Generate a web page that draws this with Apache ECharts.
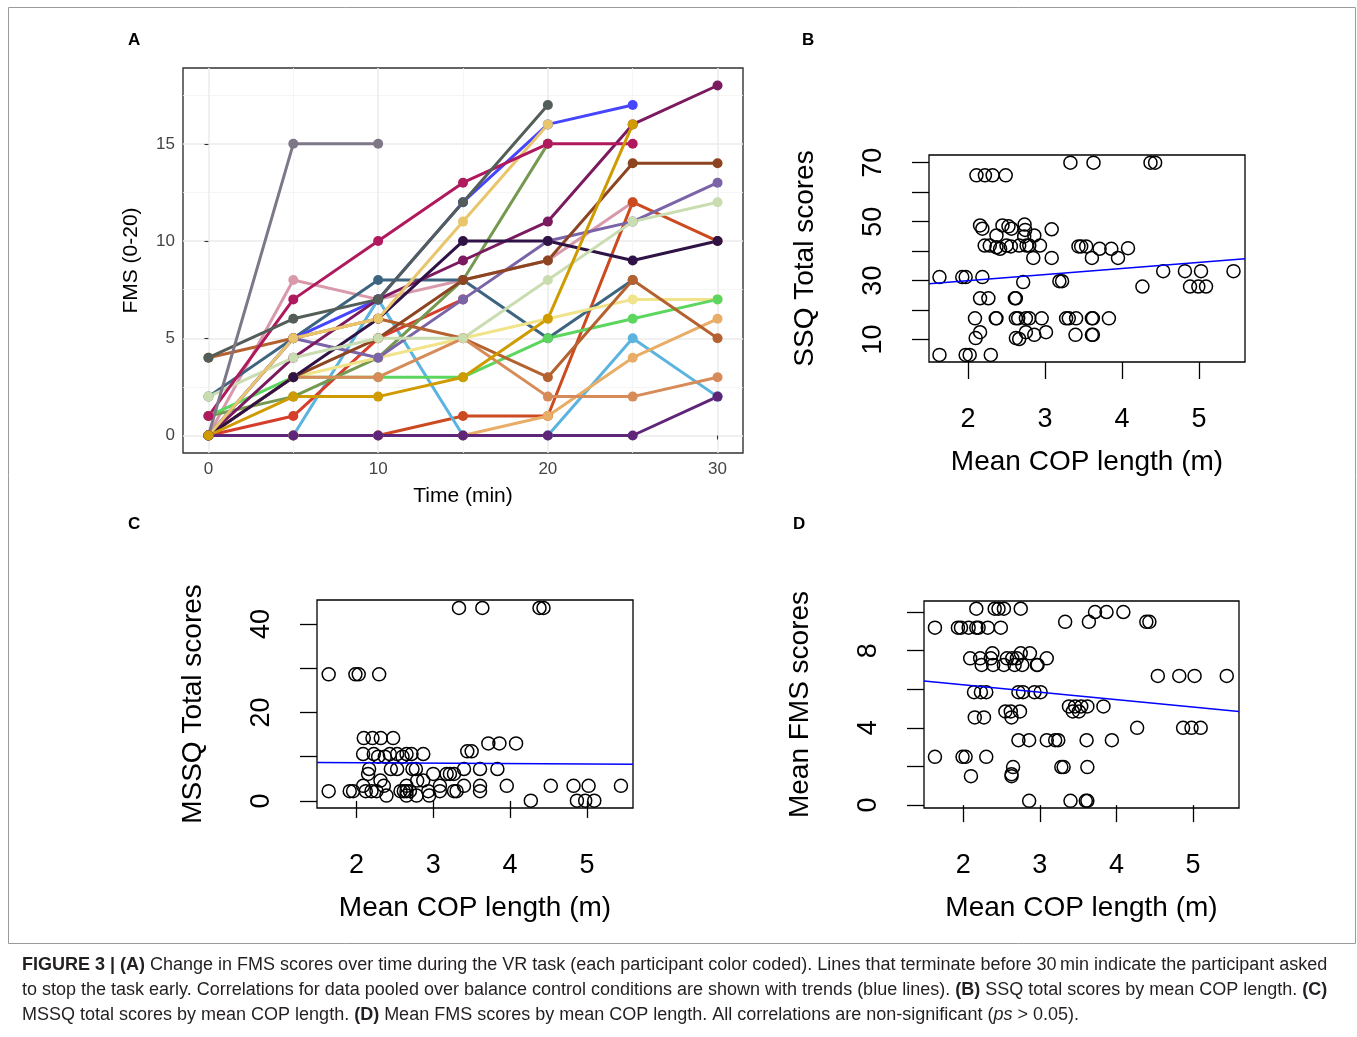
<!DOCTYPE html>
<html><head><meta charset="utf-8">
<script src="https://cdn.jsdelivr.net/npm/echarts@6/dist/echarts.min.js"></script>
<style>html,body{margin:0;padding:0;background:#fff}#c{width:1357px;height:1037px}</style>
</head><body><div id="c"></div>
<script>
// ---------- Panel A data: FMS (0-20) per participant over time ----------
const timePoints = [0, 5, 10, 15, 20, 25, 30];
const fmsPink        = [0, 8, 7, 8, 9, 12];
const fmsOrangeRed   = [0, 0, 0, 1, 1, 12, 10];
const fmsSkyBlue     = [0, 0, 7, 0, 0, 5, 2];
const fmsSandy       = [0, 0, 0, 0, 1, 4, 6];
const fmsRed         = [0, 1, 5, 7];
const fmsOlive       = [1, 2, 4, 8, 15];
const fmsSteelBlue   = [2, 5, 8, 8, 5, 8];
const fmsBlue        = [0, 5, 7, 12, 16, 17];
const fmsKhaki       = [0, 3, 4, 5, 6, 7, 7];
const fmsLavender    = [0, 5, 4, 7, 10, 11, 13];
const fmsBrightGreen = [1, 3, 3, 3, 5, 6, 7];
const fmsCopper      = [4, 5, 6, 5, 3, 8, 5];
const fmsBrown       = [0, 3, 5, 8, 9, 14, 14];
const fmsPeru        = [0, 3, 3, 5, 2, 2, 3];
const fmsPlum        = [0, 4, 7, 9, 11, 16, 18];
const fmsEggplant    = [0, 3, 6, 10, 10, 9, 10];
const fmsSage        = [2, 4, 5, 5, 8, 11, 12];
const fmsLightGold   = [0, 5, 6, 11, 16];
const fmsCrimson     = [1, 7, 10, 13, 15, 15];
const fmsDarkSlate   = [4, 6, 7, 12, 17];
const fmsGrayPurple  = [0, 15, 15];
const fmsPurple      = [0, 0, 0, 0, 0, 0, 2];
const fmsGold        = [0, 2, 2, 3, 6, 16];
const panelAXTicks = [0, 10, 20, 30];
const panelAXMinor = [5, 15, 25];
const panelAYTicks = [0, 5, 10, 15];
const panelAYMinor = [2.5, 7.5, 12.5, 17.5];

// ---------- Panel B: SSQ total vs mean COP length ----------
const bCop = [3.33,3.63,4.37,4.43, 2.11,2.22,2.32,2.49,
  2.157,2.187,2.370,2.448,2.526,2.565,2.735,2.743,2.730,2.861,3.087,
  2.217,2.283,2.370,2.417,2.500,2.557,2.665,2.761,2.796,2.935,3.435,3.470,3.535,3.709,3.861,4.078,
  2.848,3.087,3.609,3.948, 4.535,4.817,5.026,5.448, 1.630,1.926,1.970,2.187,
  2.717,3.187,3.222, 4.265,4.883,4.991,5.091, 2.157,2.265,2.609,2.622,
  2.091,2.361,2.370,2.622,2.652,2.752,2.796,2.957,3.274,3.309,3.404,3.609,3.622,3.830,
  2.157,2.100,2.622,2.665,2.752,2.861,3.013,3.396,3.609,3.622, 1.630,1.970,2.022,2.296];
const bSsq = [70,70,70,70, 65.7,65.7,65.7,65.7,
  48.7,47.6,45.3,48.7,48.4,47.6,49.0,47.2,45.0,45.3,47.4,
  41.9,41.9,41.3,40.8,41.9,41.6,41.9,41.9,41.9,41.9,41.6,41.6,41.6,40.8,40.8,41.0,
  37.7,37.7,37.7,37.7, 33.2,33.2,33.2,33.2, 31.2,31.2,31.2,31.2,
  29.5,29.8,29.8, 28.0,28.0,28.0,28.0, 24.0,24.0,24.0,24.0,
  17.2,17.2,17.2,17.2,17.2,17.2,17.2,17.2,17.2,17.2,17.2,17.2,17.2,17.2,
  12.5,10.5,10.5,10.2,12.5,11.6,12.5,11.6,11.6,11.6, 4.8,4.8,4.8,4.8];
const bTrend = [[1.494, 28.9], [5.597, 37.4]];
const bXTicks = [2, 3, 4, 5];
const bYTicks = [10, 20, 30, 40, 50, 60, 70];
const bYLabels = [10, 30, 50, 70];

// ---------- Panel C: MSSQ total vs mean COP length ----------
const cCop = [3.335,3.639,4.383,4.435, 1.639,1.987,2.030,2.296, 2.096,2.209,2.317,2.478,
  3.717,3.861,4.078, 3.443,3.500, 2.087,2.226,2.435,2.530,2.652,2.717,2.870, 2.283,2.370,2.600,
  2.165,2.448,2.530,2.730,2.774,3.400,3.609,3.835, 2.152,3.000,3.174,3.217,3.270, 2.313,2.791,2.870,
  2.087,2.357,2.652,3.087,3.400,3.609,3.957,4.530,4.826,5.022,5.443,
  1.639,1.913,1.957,2.122,2.196,2.261,2.574,2.617,2.652,2.696,2.935,3.087,3.270,3.304,3.609,
  2.391,2.652,2.783,2.948, 4.270,4.870,4.978,5.096];
const cMssq = [43.6,43.6,43.6,43.6, 28.6,28.6,28.6,28.6, 14.2,14.2,14.2,14.2,
  13.0,13.0,13.0, 11.2,11.2, 10.6,10.6,10.6,10.6,10.6,10.6,10.6, 10.0,10.0,10.0,
  7.2,7.2,7.2,7.2,7.2,7.2,7.2,7.2, 6.1,6.1,6.1,6.1,6.1, 4.6,4.6,4.6,
  3.4,3.4,3.4,3.4,3.4,3.4,3.4,3.4,3.4,3.4,3.4,
  2.2,2.2,2.2,2.2,2.2,2.2,2.2,2.2,2.2,2.2,2.2,2.2,2.2,2.2,2.2,
  1.2,1.2,1.2,1.2, 0.06,0.06,0.06,0.06];
const cTrend = [[1.487, 8.7], [5.6, 8.3]];
const cXTicks = [2, 3, 4, 5];
const cYTicks = [0, 10, 20, 30, 40];
const cYLabels = [0, 20, 40];

// ---------- Panel D: mean FMS vs mean COP length ----------
const dCop = [2.17,2.41,2.46,2.53,2.75, 3.72,3.87,4.09, 3.33,3.64,4.39,4.43,
  1.63,1.93,1.97,2.07,2.17,2.20,2.32,2.49, 2.38,2.75,2.87, 2.09,2.22,2.36,2.57,2.64,2.70,3.09,
  2.24,2.39,2.53,2.67,2.77,2.96,2.97, 4.54,4.82,5.02,5.44, 2.14,2.23,2.30,2.72,2.78,2.93,3.01,
  3.38,3.46,3.54,3.62,3.83, 2.55,2.62,2.74,3.43,3.51, 2.15,2.27,2.63, 4.27,4.87,4.98,5.10,
  2.72,2.86,3.09,3.20,3.24,3.61,3.94, 1.63,1.99,2.03,2.30, 2.65,3.28,3.31,3.62, 2.10,2.63,2.63,
  2.86,3.40,3.60,3.62];
const dFms = [10.17,10.17,10.17,10.17,10.17, 10.0,10.0,10.0, 9.49,9.49,9.49,9.49,
  9.19,9.19,9.19,9.19,9.19,9.19,9.19,9.19, 7.86,7.86,7.86, 7.6,7.6,7.6,7.6,7.6,7.6,7.6,
  7.26,7.26,7.26,7.26,7.26,7.26,7.26, 6.69,6.69,6.69,6.69, 5.85,5.85,5.85,5.85,5.85,5.85,5.85,
  5.11,5.11,5.11,5.11,5.11, 4.85,4.85,4.85,4.85,4.85, 4.54,4.54,4.54, 4.0,4.0,4.0,4.0,
  3.36,3.36,3.36,3.36,3.36,3.36,3.36, 2.5,2.5,2.5,2.5, 1.97,1.97,1.97,1.97, 1.5,1.5,1.6,
  0.22,0.22,0.22,0.22];
const dTrend = [[1.487, 6.43], [5.6, 4.85]];
const dXTicks = [2, 3, 4, 5];
const dYTicks = [0, 2, 4, 6, 8, 10];
const dYLabels = [0, 4, 8];

// ---------- styles ----------
const panelASeries = [
  ['pink', fmsPink, '#d89aab'], ['orangeRed', fmsOrangeRed, '#cc4a20'], ['skyBlue', fmsSkyBlue, '#5ab4df'],
  ['sandy', fmsSandy, '#e8ad66'], ['red', fmsRed, '#d43e2b'], ['olive', fmsOlive, '#74994f'],
  ['steelBlue', fmsSteelBlue, '#3e6580'], ['blue', fmsBlue, '#4646ff'], ['khaki', fmsKhaki, '#f0e38a'],
  ['lavender', fmsLavender, '#7a63a7'], ['brightGreen', fmsBrightGreen, '#5cd65e'], ['copper', fmsCopper, '#b4622f'],
  ['brown', fmsBrown, '#8d4420'], ['peru', fmsPeru, '#d78b58'], ['plum', fmsPlum, '#7b1a5f'],
  ['eggplant', fmsEggplant, '#301346'], ['sage', fmsSage, '#c9ddb1'], ['lightGold', fmsLightGold, '#e9c56b'],
  ['crimson', fmsCrimson, '#b0195d'], ['darkSlate', fmsDarkSlate, '#545e58'], ['grayPurple', fmsGrayPurple, '#7e7788'],
  ['purple', fmsPurple, '#5f2578'], ['gold', fmsGold, '#cf9b00']
];

const FONT = 'Liberation Sans';
const CAP = '"Liberation Sans Narrow", "Liberation Sans"';
const chart = echarts.init(document.getElementById('c'), null, {renderer: 'canvas'});

const series = [];
panelASeries.forEach(([name, vals, color]) => {
  const data = vals.map((v, i) => [timePoints[i], v]);
  series.push({type: 'line', name: name, xAxisIndex: 0, yAxisIndex: 0, data: data, z: 2,
    showSymbol: false, symbol: 'none', lineStyle: {color: color, width: 3}, silent: true});
});
panelASeries.forEach(([name, vals, color]) => {
  const data = vals.map((v, i) => [timePoints[i], v]);
  series.push({type: 'scatter', name: name + 'Pts', xAxisIndex: 0, yAxisIndex: 0, data: data, z: 3,
    symbolSize: 10, itemStyle: {color: color, opacity: 1}, silent: true});
});
function zip(xs, ys) { return xs.map((x, i) => [x, ys[i]]); }
const hollow = {color: 'rgba(0,0,0,0)', borderColor: '#000', borderWidth: 1.5, opacity: 1};
[[bCop, bSsq, bTrend, 2], [cCop, cMssq, cTrend, 3], [dCop, dFms, dTrend, 4]].forEach(([xs, ys, tr, idx]) => {
  series.push({type: 'scatter', xAxisIndex: idx, yAxisIndex: idx, data: zip(xs, ys), symbol: 'circle',
    symbolSize: 13, itemStyle: hollow, z: 2, silent: true});
  series.push({type: 'line', xAxisIndex: idx, yAxisIndex: idx, data: tr, symbol: 'none', showSymbol: false,
    lineStyle: {color: '#0000ff', width: 1.5}, z: 3, silent: true});
});

function baseX(grid, min, max, ticks, name) {
  return {type: 'value', gridIndex: grid, min: min, max: max, position: 'bottom',
    axisLine: {show: false},
    axisTick: {show: true, customValues: ticks, length: 17, lineStyle: {color: '#000', width: 1.3}},
    axisLabel: {customValues: ticks, fontSize: 27, color: '#000', fontFamily: FONT, margin: 44},
    splitLine: {show: false},
    name: name, nameLocation: 'middle', nameGap: 86,
    nameTextStyle: {fontSize: 28, color: '#000', fontFamily: FONT}};
}
function baseY(grid, min, max, ticks, labels, name) {
  return {type: 'value', gridIndex: grid, min: min, max: max, position: 'left',
    axisLine: {show: false},
    axisTick: {show: true, customValues: ticks, length: 17, lineStyle: {color: '#000', width: 1.3}},
    axisLabel: {customValues: labels, fontSize: 27, color: '#000', fontFamily: FONT, margin: 42, rotate: 90},
    splitLine: {show: false},
    name: name, nameLocation: 'middle', nameGap: 110, nameRotate: 90,
    nameTextStyle: {fontSize: 28, color: '#000', fontFamily: FONT}};
}

const option = {
  animation: false,
  backgroundColor: '#fff',
  grid: [
    {left: 183, top: 68, width: 560, height: 385, show: true, borderColor: '#333', borderWidth: 1.4, backgroundColor: '#fff', containLabel: false},
    {left: 929, top: 155, width: 316, height: 207, show: true, borderColor: '#000', borderWidth: 1.3},
    {left: 317, top: 600, width: 316, height: 208, show: true, borderColor: '#000', borderWidth: 1.3},
    {left: 924, top: 601, width: 315, height: 207, show: true, borderColor: '#000', borderWidth: 1.3}
  ],
  xAxis: [
    {type: 'value', gridIndex: 0, min: -1.5, max: 31.5, position: 'bottom',
      axisLine: {show: false},
      axisTick: {show: true, customValues: panelAXTicks, length: 4, lineStyle: {color: '#333', width: 1.1}},
      axisLabel: {customValues: panelAXTicks, fontSize: 17, color: '#444', fontFamily: FONT, margin: 8},
      splitLine: {show: true, lineStyle: {color: '#ebebeb', width: 1.5}},
      name: 'Time (min)', nameLocation: 'middle', nameGap: 33,
      nameTextStyle: {fontSize: 21, color: '#000', fontFamily: FONT}},
    {type: 'value', gridIndex: 0, min: -1.5, max: 31.5, position: 'top',
      axisLine: {show: false}, axisTick: {show: false, customValues: panelAXMinor},
      axisLabel: {show: false, customValues: panelAXMinor},
      splitLine: {show: true, lineStyle: {color: '#f2f2f2', width: 0.8}}},
    baseX(1, 1.494, 5.597, bXTicks, 'Mean COP length (m)'),
    baseX(2, 1.487, 5.6, cXTicks, 'Mean COP length (m)'),
    baseX(3, 1.487, 5.6, dXTicks, 'Mean COP length (m)')
  ],
  yAxis: [
    {type: 'value', gridIndex: 0, min: -0.9, max: 18.9, position: 'left',
      axisLine: {show: false},
      axisTick: {show: true, customValues: panelAYTicks, length: 4, lineStyle: {color: '#333', width: 1.1}},
      axisLabel: {customValues: panelAYTicks, fontSize: 17, color: '#444', fontFamily: FONT, margin: 8},
      splitLine: {show: true, lineStyle: {color: '#ebebeb', width: 1.5}},
      name: 'FMS (0-20)', nameLocation: 'middle', nameGap: 41, nameRotate: 90,
      nameTextStyle: {fontSize: 21, color: '#000', fontFamily: FONT}},
    {type: 'value', gridIndex: 0, min: -0.9, max: 18.9, position: 'right',
      axisLine: {show: false}, axisTick: {show: false, customValues: panelAYMinor},
      axisLabel: {show: false, customValues: panelAYMinor},
      splitLine: {show: true, lineStyle: {color: '#f2f2f2', width: 0.8}}},
    baseY(1, 2.4, 72.6, bYTicks, bYLabels, 'SSQ Total scores'),
    baseY(2, -1.6, 45.4, cYTicks, cYLabels, 'MSSQ Total scores'),
    baseY(3, -0.15, 10.57, dYTicks, dYLabels, 'Mean FMS scores')
  ],
  series: series,
  graphic: [
    {type: 'rect', shape: {x: 8.5, y: 7.5, width: 1347, height: 936}, style: {fill: 'none', stroke: '#9a9a9a', lineWidth: 1}, silent: true, z: -1},
    {type: 'text', x: 128, y: 32, style: {text: 'A', font: 'bold 17px ' + FONT, fill: '#000'}},
    {type: 'text', x: 802, y: 32, style: {text: 'B', font: 'bold 17px ' + FONT, fill: '#000'}},
    {type: 'text', x: 128, y: 516, style: {text: 'C', font: 'bold 17px ' + FONT, fill: '#000'}},
    {type: 'text', x: 793, y: 516, style: {text: 'D', font: 'bold 17px ' + FONT, fill: '#000'}},
    {type: 'text', x: 22, y: 956, style: {
      text: '{b|FIGURE 3 | (A)} Change in FMS scores over time during the VR task (each participant color coded). Lines that terminate before 30\u2009min indicate the participant asked',
      font: '18px ' + CAP, fill: '#231f20',
      rich: {b: {fontWeight: 'bold', fontSize: 18, fontFamily: CAP, fill: '#231f20'}}}},
    {type: 'text', x: 22, y: 981, style: {
      text: 'to stop the task early. Correlations for data pooled over balance control conditions are shown with trends (blue lines). {b|(B)} SSQ total scores by mean COP length. {b|(C)}',
      font: '18px ' + CAP, fill: '#231f20',
      rich: {b: {fontWeight: 'bold', fontSize: 18, fontFamily: CAP, fill: '#231f20'}}}},
    {type: 'text', x: 22, y: 1006, style: {
      text: 'MSSQ total scores by mean COP length. {b|(D)} Mean FMS scores by mean COP length. All correlations are non-significant ({i|ps} > 0.05).',
      font: '18px ' + CAP, fill: '#231f20',
      rich: {b: {fontWeight: 'bold', fontSize: 18, fontFamily: CAP, fill: '#231f20'},
             i: {fontStyle: 'italic', fontSize: 18, fontFamily: CAP, fill: '#231f20'}}}}
  ]
};
chart.setOption(option);
</script>
</body></html>
